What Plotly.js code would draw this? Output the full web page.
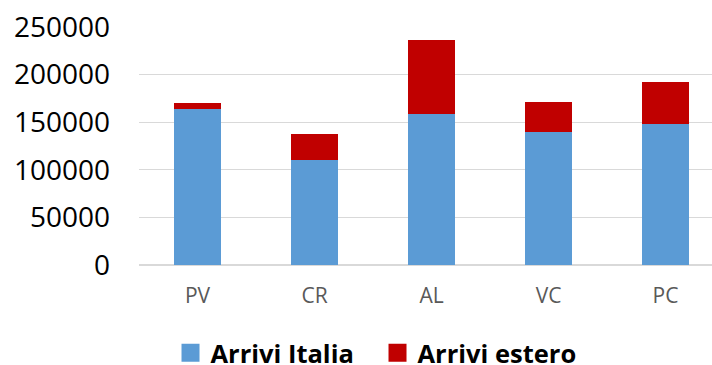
<!DOCTYPE html>
<html>
<head>
<meta charset="utf-8">
<script src="https://cdn.plot.ly/plotly-3.0.1.min.js"></script>
<style>
  html, body { margin: 0; padding: 0; background: #ffffff; }
  #chart { width: 712px; height: 365px; }
</style>
</head>
<body>
<div id="chart"></div>
<script>
// Arrivals by province, split by origin
const province = ['PV', 'CR', 'AL', 'VC', 'PC'];
const arriviItalia = [164000, 110000, 158600, 139400, 147800];
const arriviEstero = [6000, 27600, 77700, 31800, 44100];
const yTicks = [0, 50000, 100000, 150000, 200000, 250000];

const FONT = 'Open Sans, Liberation Sans, sans-serif';

const traces = [
  {
    type: 'bar',
    name: 'Arrivi Italia',
    x: province,
    y: arriviItalia,
    marker: { color: '#5B9BD5', line: { width: 0 } },
    hoverinfo: 'skip'
  },
  {
    type: 'bar',
    name: 'Arrivi estero',
    x: province,
    y: arriviEstero,
    marker: { color: '#C00000', line: { width: 0 } },
    hoverinfo: 'skip'
  }
];

const layout = {
  width: 712,
  height: 365,
  margin: { l: 139, r: 0, t: 27, b: 100, pad: 0, autoexpand: false },
  paper_bgcolor: '#ffffff',
  plot_bgcolor: '#ffffff',
  barmode: 'stack',
  bargap: 0.6,
  font: { family: FONT, color: '#000000' },
  xaxis: {
    type: 'category',
    range: [-0.5, 4.397],
    showgrid: false,
    showline: false,
    zeroline: false,
    ticks: '',
    ticklabelstandoff: 16,
    tickfont: { family: FONT, size: 21, color: '#595959' }
  },
  yaxis: {
    range: [0, 250000],
    tickmode: 'array',
    tickvals: yTicks,
    ticktext: yTicks.map(String),
    showgrid: true,
    gridcolor: '#d9d9d9',
    gridwidth: 1.3,
    zeroline: true,
    zerolinecolor: '#d9d9d9',
    zerolinewidth: 1.3,
    showline: false,
    ticks: '',
    ticklabelstandoff: 28,
    tickfont: { family: FONT, size: 28, color: '#000000' }
  },
  showlegend: true,
  legend: {
    orientation: 'h',
    x: 0.055,
    xanchor: 'left',
    y: -0.37,
    yanchor: 'middle',
    traceorder: 'normal',
    entrywidth: 162,
    font: { family: FONT, size: 25.5, color: '#000000', weight: 'bold' },
    bgcolor: 'rgba(0,0,0,0)'
  }
};

Plotly.newPlot('chart', traces, layout, { staticPlot: true, displayModeBar: false }).then(function (gd) {
  // larger square legend swatches
  gd.querySelectorAll('.legendpoints path').forEach(function (p) {
    p.setAttribute('d', 'M9,9H-9V-9H9Z');
  });
});
</script>
</body>
</html>
